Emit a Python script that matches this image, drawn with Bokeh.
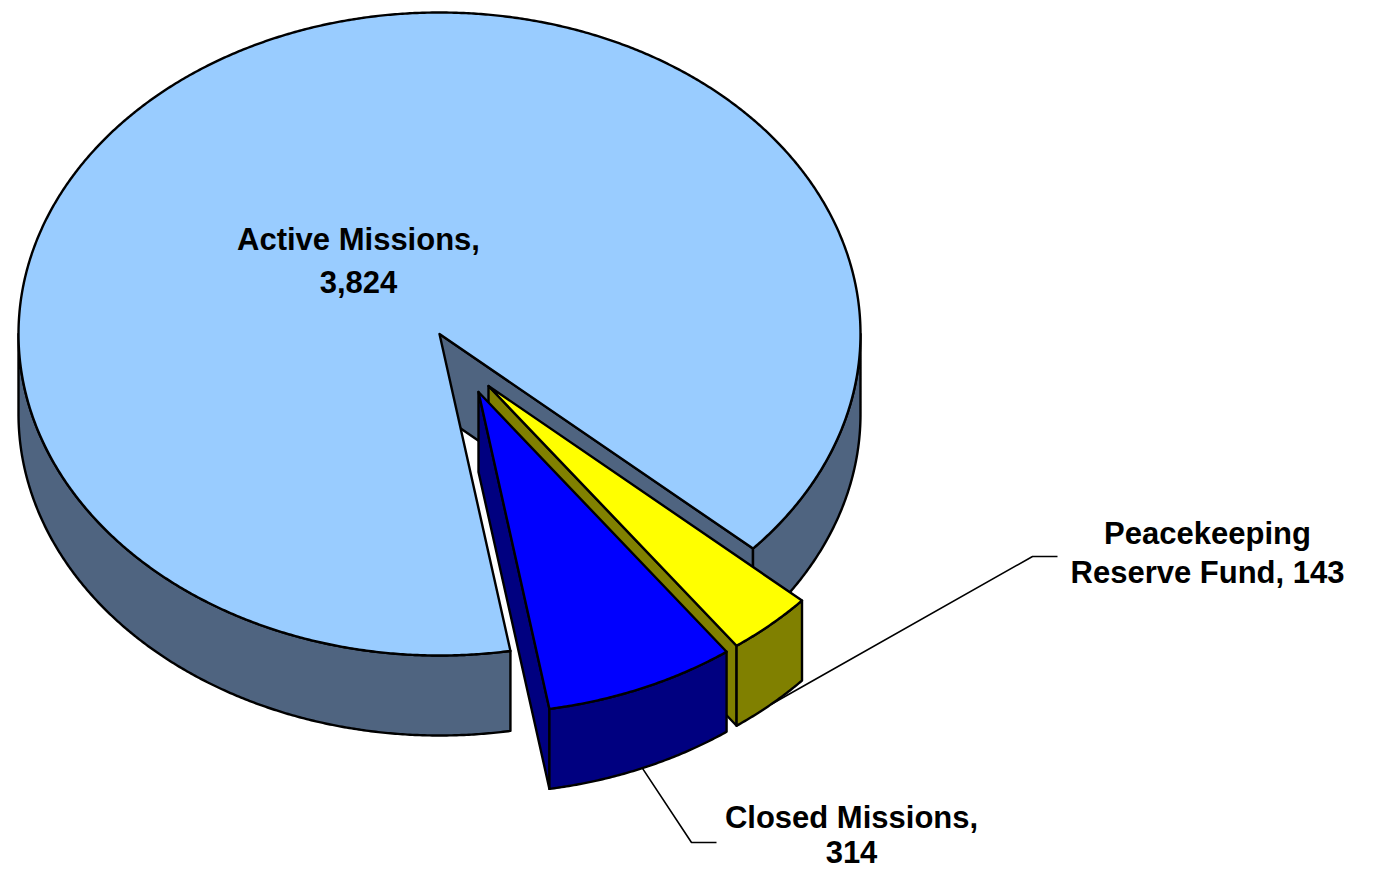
import numpy as np
from bokeh.plotting import figure
from bokeh.models import Range1d
from bokeh.embed import file_html
from bokeh.resources import INLINE
from bokeh.core.properties import value

# ---- data ----
categories = ["Active Missions", "Closed Missions", "Peacekeeping Reserve Fund"]
amounts = [3824, 314, 143]
label_lines = [["Active Missions,", "3,824"],
               ["Closed Missions,", "314"],
               ["Peacekeeping", "Reserve Fund, 143"]]
top_colors = ["#99CCFF", "#0000FF", "#FFFF00"]
side_colors = ["#4F6480", "#000080", "#808000"]

# ---- figure (data coords == picture pixels) ----
W, H = 1362, 868
p = figure(width=W, height=H, x_range=Range1d(0, W), y_range=Range1d(H, 0),
           output_backend="svg", toolbar_location=None, min_border=0)
p.axis.visible = False
p.grid.visible = False
p.outline_line_color = None
p.background_fill_color = "white"
p.border_fill_color = "white"

CX, CY, RX, RY, DEPTH = 439.0, 333.5, 421.0, 321.5, 80.0
START = 80.3                      # angle where first slice starts (clockwise, y-down)
explode = [(0.0, 0.0), (39.0, 58.0), (49.0, 52.0)]
clockwise_order = [0, 2, 1]       # Active, Reserve, Closed going clockwise
draw_order = [0, 2, 1]            # back to front
LW = 2.4

total = float(sum(amounts))
spans = {}
a = START
for i in clockwise_order:
    span = amounts[i] / total * 360.0
    spans[i] = (a, a + span)
    a += span


def arc(a1, a2, dx, dy, dz):
    n = max(2, int(abs(a2 - a1) * 3))
    t = np.radians(np.linspace(a1, a2, n))
    return list(CX + dx + RX * np.cos(t)), list(CY + dy + dz + RY * np.sin(t))


def pt(ang, dx, dy, dz):
    t = np.radians(ang)
    return CX + dx + RX * np.cos(t), CY + dy + dz + RY * np.sin(t)


style = dict(line_color="black", line_width=LW, line_join="round")

for i in draw_order:
    a1, a2 = spans[i]
    dx, dy = explode[i]
    side = side_colors[i]
    # radial walls
    for ang, sgn in ((a1, -1), (a2, 1)):
        ny = sgn * np.cos(np.radians(ang))
        if ny > 1e-6:
            ex, ey = pt(ang, dx, dy, 0)
            xs = [CX + dx, ex, ex, CX + dx]
            ys = [CY + dy, ey, ey + DEPTH, CY + dy + DEPTH]
            p.patch(xs, ys, fill_color=side, **style)
    # outer (front) walls
    for k in range(-1, 3):
        lo, hi = max(a1, k * 360.0), min(a2, k * 360.0 + 180.0)
        if hi - lo > 0.01:
            tx, ty = arc(lo, hi, dx, dy, 0)
            bx, by = arc(lo, hi, dx, dy, DEPTH)
            p.patch(tx + bx[::-1], ty + by[::-1], fill_color=side, **style)
    # top face
    tx, ty = arc(a1, a2, dx, dy, 0)
    p.patch([CX + dx] + tx, [CY + dy] + ty, fill_color=top_colors[i], **style)

# ---- leader lines ----
lead_ends = {1: [(691, 842), (716, 842)], 2: [(1032, 556), (1057, 556)]}
for i, ends in lead_ends.items():
    a1, a2 = spans[i]
    dx, dy = explode[i]
    sx, sy = pt((a1 + a2) / 2.0, dx, dy, DEPTH)
    p.line([sx] + [e[0] for e in ends], [sy] + [e[1] for e in ends],
           line_color="black", line_width=1.6)

# ---- labels (y = vertical middle of each text line) ----
label_pos = {0: (358, [239, 281]), 1: (851, [817, 851]), 2: (1207, [533, 572])}
for i, (lx, lys) in label_pos.items():
    p.text(x=[lx] * len(lys), y=lys, text=label_lines[i],
           text_font=value("Liberation Sans"), text_font_style="bold",
           text_font_size="31px", text_align="center", text_baseline="middle",
           text_color="black")

open("out.html", "w").write(file_html(p, INLINE))
